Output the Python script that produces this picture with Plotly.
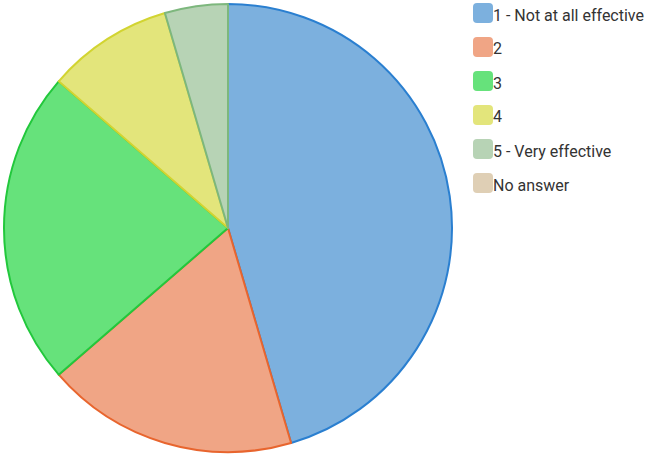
import plotly.graph_objects as go

labels = ["1 - Not at all effective", "2", "3", "4", "5 - Very effective", "No answer"]
values = [10, 4, 5, 2, 1, 0]
fill_colors = ["#7cb0de", "#f0a585", "#66e27b", "#e3e57b", "#b7d3b5", "#dfcfb5"]
line_colors = ["#2a7fd0", "#e8652e", "#22c83c", "#d2d431", "#7db77d", "#c4ab84"]

W, H = 655, 456

fig = go.Figure()
fig.add_trace(go.Pie(
    labels=labels, values=values, sort=False, direction="clockwise", rotation=0,
    marker=dict(colors=fill_colors,
                line=dict(color=line_colors, width=[2 if v > 0 else 0 for v in values])),
    textinfo="none", hoverinfo="label+value+percent", showlegend=False,
    domain=dict(x=[4 / W, 452 / W], y=[4 / H, 452 / H]),
))

# custom legend (rounded swatches + text)
shapes = []
annotations = []
x0, x1 = 473, 493


def px(x):
    return x / W


def py(y):
    return 1 - y / H


for i, lab in enumerate(labels):
    cy = 13 + 34 * i
    y0, y1 = cy - 10, cy + 10
    r = 4
    path = (f"M {px(x0 + r)},{py(y0)} L {px(x1 - r)},{py(y0)} "
            f"Q {px(x1)},{py(y0)} {px(x1)},{py(y0 + r)} L {px(x1)},{py(y1 - r)} "
            f"Q {px(x1)},{py(y1)} {px(x1 - r)},{py(y1)} L {px(x0 + r)},{py(y1)} "
            f"Q {px(x0)},{py(y1)} {px(x0)},{py(y1 - r)} L {px(x0)},{py(y0 + r)} "
            f"Q {px(x0)},{py(y0)} {px(x0 + r)},{py(y0)} Z")
    shapes.append(dict(type="path", xref="paper", yref="paper", path=path,
                       fillcolor=fill_colors[i], line=dict(width=0)))
    annotations.append(dict(x=px(x1 - 2), y=py(cy + 2), xref="paper", yref="paper",
                            text=lab, showarrow=False, xanchor="left", yanchor="middle",
                            font=dict(size=16, color="#333333", family="Roboto")))

fig.update_layout(
    width=W, height=H, margin=dict(l=0, r=0, t=0, b=0),
    paper_bgcolor="white", plot_bgcolor="white",
    shapes=shapes, annotations=annotations,
)
fig.write_html("out.html", config={"displayModeBar": False},
               post_script="document.body.style.margin='0px';")
